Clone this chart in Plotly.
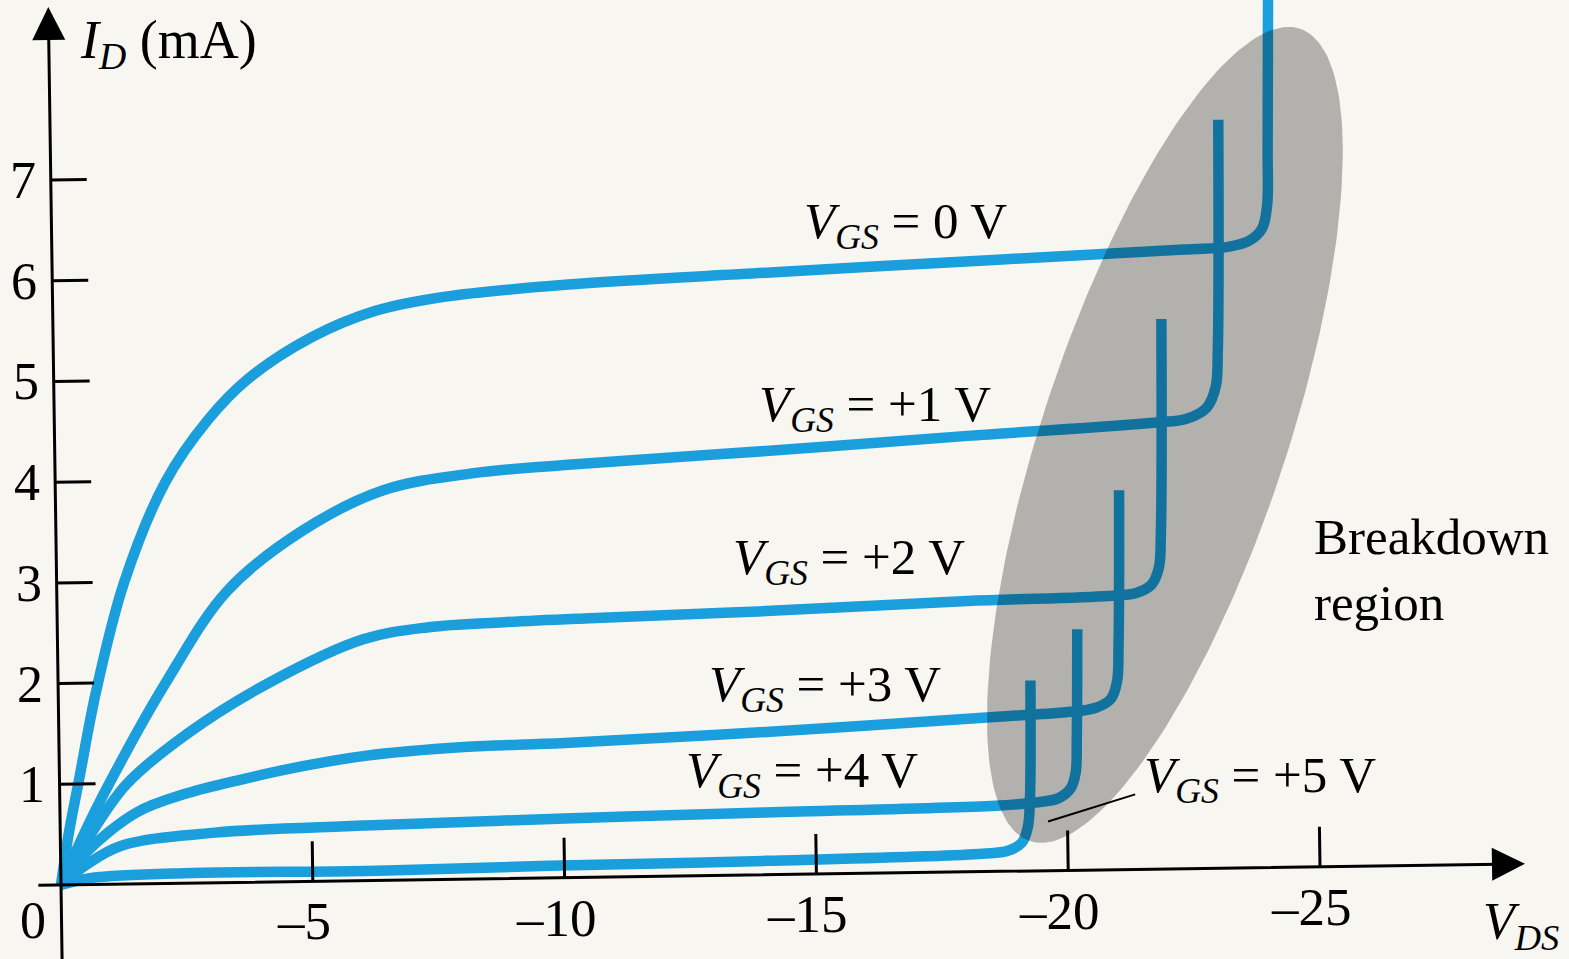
"""
p-channel JFET drain characteristics with breakdown region.
"""

import numpy as np
import plotly.graph_objects as go

# ---- data (V_DS in volts, I_D in mA) ----
VGS_LABELS = ["0", "+1", "+2", "+3", "+4", "+5"]

VDS_VGS0 = [0, -0.15, -0.36, -0.7, -1.25, -2.07, -2.92, -3.7, -4.98, -6.23, -7.6,
            -10.0, -14.0, -18.6, -22.3, -23.2, -23.6, -23.85, -23.95, -23.96, -23.97]
ID_VGS0 = [0, 0.5, 1.05, 1.93, 3.0, 4.0, 4.62, 5.02, 5.44, 5.70, 5.84,
           5.96, 6.08, 6.21, 6.31, 6.34, 6.40, 6.52, 6.75, 7.3, 9.3]

VDS_VGS1 = [0, -0.45, -0.95, -2.07, -3.3, -4.8, -6.4, -8.2, -10.0, -14.0, -18.0,
            -21.7, -22.35, -22.75, -22.93, -22.97, -22.98]
ID_VGS1 = [0, 0.5, 1.0, 2.0, 2.92, 3.52, 3.92, 4.09, 4.17, 4.31, 4.46,
           4.59, 4.63, 4.74, 4.95, 5.3, 7.6]

VDS_VGS2 = [0, -0.5, -1.3, -2.5, -4.1, -6.0, -7.3, -8.8, -10.5, -14.0, -18.0, -20.8,
            -21.35, -21.65, -21.8, -21.84, -21.85]
ID_VGS2 = [0, 0.43, 1.0, 1.5, 2.0, 2.44, 2.56, 2.61, 2.65, 2.72, 2.82, 2.87,
           2.90, 2.98, 3.15, 3.5, 5.62]

VDS_VGS3 = [0, -0.45, -1.5, -2.5, -3.6, -4.8, -6.0, -8.0, -10.0, -14.0, -18.6, -20.05,
            -20.55, -20.85, -20.97, -21.0, -21.01]
ID_VGS3 = [0, 0.3, 0.72, 0.91, 1.05, 1.18, 1.28, 1.37, 1.41, 1.52, 1.67, 1.72,
           1.76, 1.85, 2.02, 2.4, 3.92]

VDS_VGS4 = [0, -0.5, -1.2, -3.06, -6.04, -10.0, -14.0, -18.65, -19.35, -19.8,
            -20.05, -20.15, -20.17, -20.18]
ID_VGS4 = [0, 0.2, 0.39, 0.52, 0.59, 0.66, 0.72, 0.79, 0.82, 0.86,
           0.96, 1.12, 1.45, 2.54]

VDS_VGS5 = [0, -0.6, -2.6, -6.04, -9.7, -14.0, -18.3, -18.8, -19.08, -19.2, -19.24, -19.25]
ID_VGS5 = [0, 0.07, 0.12, 0.14, 0.19, 0.24, 0.31, 0.34, 0.42, 0.58, 0.85, 2.03]

X_TICKS = [-5, -10, -15, -20, -25]
X_TICK_TEXT = ["\u20135", "\u201310", "\u201315", "\u201320", "\u201325"]
Y_TICKS = [1, 2, 3, 4, 5, 6, 7]
Y_TICK_TEXT = ["1", "2", "3", "4", "5", "6", "7"]

# label anchor points (V_DS, I_D)
LABEL_V = [-16.76, -16.16, -15.65, -15.17, -14.71, -23.81]
LABEL_I = [6.55, 4.74, 3.22, 1.96, 1.10, 1.05]

# ---- geometry ----
W, H = 1569, 959
ORIGIN_PX = (61, 885)
PX_V = 50.36      # pixels per volt
PX_MA = 100.7     # pixels per mA
TILT = 0.0145     # the scanned axes lean slightly

BLUE = "#1a9edc"
SERIF = "Liberation Serif, Times New Roman, serif"

x_range = [ORIGIN_PX[0] / PX_V, -(W - ORIGIN_PX[0]) / PX_V]
y_range = [-(H - ORIGIN_PX[1]) / PX_MA, ORIGIN_PX[1] / PX_MA]


def tilted(v, i):
    """Point of the (slightly rotated) axis frame in plot data coordinates."""
    dx, dy = -v * PX_V, i * PX_MA
    return -(dx - TILT * dy) / PX_V, (dy + TILT * dx) / PX_MA


fig = go.Figure()

curves = [(VDS_VGS0, ID_VGS0), (VDS_VGS1, ID_VGS1), (VDS_VGS2, ID_VGS2),
          (VDS_VGS3, ID_VGS3), (VDS_VGS4, ID_VGS4), (VDS_VGS5, ID_VGS5)]
for (vds, ids), lab in zip(curves, VGS_LABELS):
    fig.add_trace(go.Scatter(
        x=vds, y=ids, mode="lines", name=f"VGS = {lab} V",
        line=dict(color=BLUE, width=10.5, shape="spline", smoothing=1.0),
    ))

# breakdown region: translucent grey ellipse over the curves
ell_c = (-21.92, 4.47)          # centre (V, mA)
ell_a, ell_b, ell_ang = 428, 122, np.radians(108.4)   # px, screen angle
t = np.linspace(0, 2 * np.pi, 240)
ex = ell_a * np.cos(t) * np.cos(ell_ang) - ell_b * np.sin(t) * np.sin(ell_ang)
ey = ell_a * np.cos(t) * np.sin(ell_ang) + ell_b * np.sin(t) * np.cos(ell_ang)
fig.add_trace(go.Scatter(
    x=ell_c[0] - ex / PX_V, y=ell_c[1] - ey / PX_MA,
    mode="lines", fill="toself", fillcolor="rgba(0,0,0,0.28)",
    line=dict(width=0), hoverinfo="skip",
))

# tick marks
tx, ty = [], []
for i in Y_TICKS:
    for p in (tilted(0, i), tilted(-36 / PX_V, i)):
        tx.append(p[0]); ty.append(p[1])
    tx.append(None); ty.append(None)
for v in X_TICKS:
    for p in (tilted(v, 0), tilted(v, 40 / PX_MA)):
        tx.append(p[0]); ty.append(p[1])
    tx.append(None); ty.append(None)
fig.add_trace(go.Scatter(x=tx, y=ty, mode="lines",
                         line=dict(color="black", width=3), hoverinfo="skip"))

# leader line for the +5 V label
fig.add_trace(go.Scatter(x=[-19.6, -21.33], y=[0.63, 0.9], mode="lines",
                         line=dict(color="black", width=2), hoverinfo="skip"))

ann = []
# axes with arrow heads
for tip, tail in ((tilted(0, 8.72), tilted(0, -0.8)),
                  (tilted(-29.07, 0), tilted(0.48, 0))):
    ann.append(dict(x=tip[0], y=tip[1], ax=tail[0], ay=tail[1],
                    xref="x", yref="y", axref="x", ayref="y", text="",
                    showarrow=True, arrowhead=2, arrowsize=2.2, arrowwidth=3,
                    arrowcolor="black", standoff=0))

for i, s in zip(Y_TICKS, Y_TICK_TEXT):
    px, py = tilted(28 / PX_V, i)
    ann.append(dict(x=px, y=py, text=s, showarrow=False, font=dict(size=52)))
for v, s in zip(X_TICKS, X_TICK_TEXT):
    px, py = tilted(v + 9 / PX_V, -40 / PX_MA)
    ann.append(dict(x=px, y=py, text=s, showarrow=False, font=dict(size=53)))

ann.append(dict(x=0.56, y=-0.35, text="0", showarrow=False, font=dict(size=52)))
ann.append(dict(x=-2.14, y=8.36, text="<i>I</i><sub><i>D</i></sub> (mA)",
                showarrow=False, font=dict(size=54)))
ann.append(dict(x=-29.0, y=-0.4, text="<i>V</i><sub><i>DS</i></sub>",
                showarrow=False, font=dict(size=52)))
ann.append(dict(x=-24.84, y=3.13, text="Breakdown<br>region", align="left",
                xanchor="left", showarrow=False, font=dict(size=51)))

for v, i, lab in zip(LABEL_V, LABEL_I, VGS_LABELS):
    ann.append(dict(x=v, y=i, showarrow=False,
                    text=f"<i>V</i><sub><i>GS</i></sub> = {lab} V"))

fig.update_layout(
    width=W, height=H,
    margin=dict(l=0, r=0, t=0, b=0),
    paper_bgcolor="#f7f6f0", plot_bgcolor="#f7f6f0",
    showlegend=False, hovermode=False,
    font=dict(family=SERIF, size=51, color="black"),
    annotations=ann,
)
fig.update_xaxes(range=x_range, visible=False, fixedrange=True)
fig.update_yaxes(range=y_range, visible=False, fixedrange=True)

fig.write_html("out.html", config={"displayModeBar": False},
               post_script="document.body.style.margin='0';"
                           "document.body.style.overflow='hidden';")
